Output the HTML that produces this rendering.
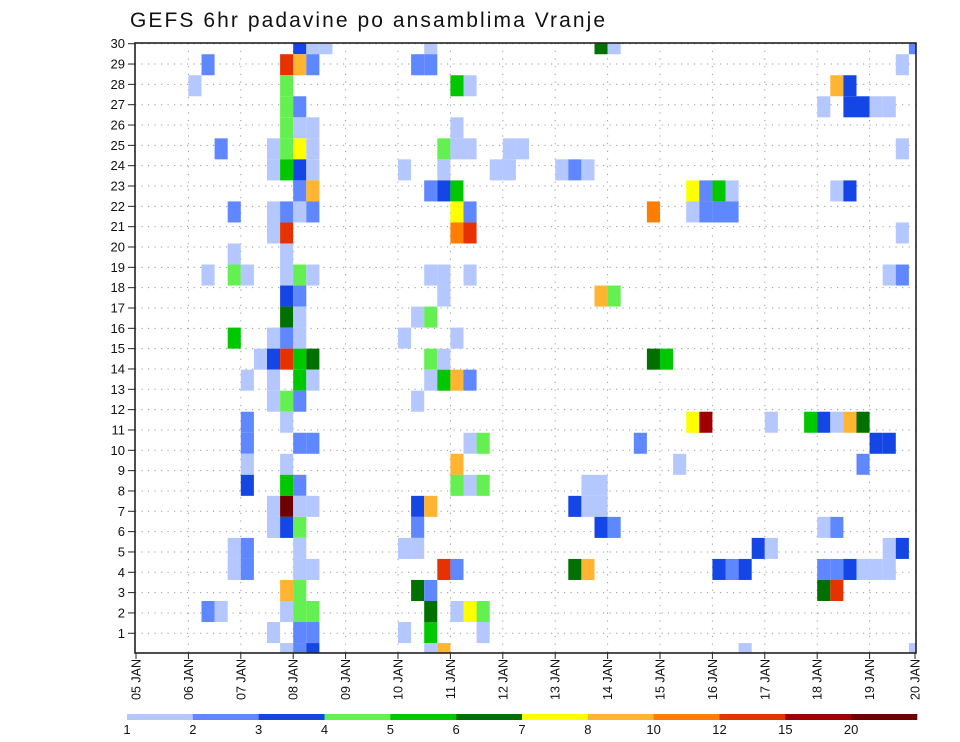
<!DOCTYPE html>
<html><head><meta charset="utf-8"><style>
body{margin:0;background:#fff;}
svg{display:block;font-family:"Liberation Sans",sans-serif;}
</style></head><body>
<svg id="chart" width="960" height="742" viewBox="0 0 960 742" xmlns="http://www.w3.org/2000/svg">
<text x="130" y="27" font-size="21" textLength="475" fill="#111">GEFS 6hr padavine po ansamblima Vranje</text>
<g id="grid"></g>
<g id="cells"></g>
<g id="axes"></g>
<g id="legend"></g>
</svg>
<script>
// data: 6-hour step index (0 = 05 JAN 00Z), ensemble member row from top, precip value (mm)
const cellStep = [12,13,14,5,11,12,13,4,11,11,12,11,12,13,6,10,11,12,13,10,11,12,13,12,13,7,10,11,12,13,10,11,7,11,5,7,8,11,12,13,11,12,11,12,7,10,11,12,9,10,11,12,13,8,10,12,13,10,11,12,8,11,8,12,13,8,11,8,11,12,10,11,12,13,10,11,12,7,8,12,7,8,12,13,11,12,5,6,11,12,13,10,12,13,11,12,13,
22,21,22,24,25,24,23,24,25,28,29,20,23,27,28,22,23,24,24,25,24,25,22,23,25,23,21,22,20,24,22,23,22,23,24,25,21,25,26,24,24,25,26,21,22,21,20,21,23,24,21,22,22,24,25,26,20,22,26,22,23,
35,36,32,33,34,42,43,44,45,39,42,43,44,45,35,36,39,40,42,43,38,41,34,35,33,34,35,35,36,33,34,44,45,46,46,
59,58,53,54,52,54,55,56,57,58,53,54,58,57,58,48,51,52,53,54,55,56,57,55,52,53,47,48,57,58,52,53,54,55,56,57,52,53,59];
const cellMember = [0,0,0,1,1,1,1,2,2,3,3,4,4,4,5,5,5,5,5,6,6,6,6,7,7,8,8,8,8,8,9,9,10,10,11,11,11,11,11,11,12,12,13,13,14,14,14,14,15,15,15,15,15,16,16,16,16,17,17,17,18,18,19,19,19,20,20,21,21,21,22,22,22,22,23,23,23,24,24,24,25,25,25,25,26,26,27,27,27,27,27,28,28,28,29,29,29,
0,1,1,2,2,4,5,5,5,5,5,6,6,6,6,7,7,7,8,8,9,9,11,11,11,12,13,13,14,14,15,15,16,16,16,16,17,19,19,20,21,21,21,22,22,23,24,24,25,25,26,26,27,27,27,27,28,28,28,29,29,
0,0,6,6,6,7,7,7,7,8,8,8,8,8,12,12,15,15,18,18,19,20,21,21,22,22,22,23,23,25,25,25,25,25,29,
0,1,2,2,3,3,3,3,3,5,7,7,9,11,11,18,18,18,18,18,18,19,19,20,23,23,24,24,24,24,25,25,25,25,25,25,26,26,29];
const cellValue = [3.5,1.5,1.5,2.5,13.5,9,2.5,1.5,4.5,4.5,2.5,4.5,1.5,1.5,2.5,1.5,4.5,7.5,1.5,1.5,5.5,3.5,1.5,2.5,9,2.5,1.5,2.5,1.5,2.5,1.5,13.5,1.5,1.5,1.5,4.5,1.5,1.5,4.5,1.5,3.5,2.5,6.5,1.5,5.5,1.5,2.5,1.5,1.5,3.5,13.5,5.5,6.5,1.5,1.5,5.5,1.5,1.5,4.5,2.5,2.5,1.5,2.5,2.5,2.5,1.5,1.5,3.5,5.5,2.5,1.5,25,1.5,1.5,1.5,3.5,4.5,1.5,2.5,1.5,1.5,2.5,1.5,1.5,9,4.5,2.5,1.5,1.5,4.5,4.5,1.5,2.5,2.5,1.5,2.5,3.5,
1.5,2.5,2.5,5.5,1.5,1.5,4.5,1.5,1.5,1.5,1.5,1.5,1.5,1.5,1.5,2.5,3.5,5.5,7.5,2.5,11,13.5,1.5,1.5,1.5,1.5,1.5,4.5,1.5,1.5,4.5,1.5,1.5,5.5,9,2.5,1.5,1.5,4.5,9,4.5,1.5,4.5,3.5,9,2.5,1.5,1.5,13.5,2.5,6.5,2.5,6.5,1.5,7.5,4.5,1.5,5.5,1.5,1.5,9,
6.5,1.5,1.5,2.5,1.5,7.5,2.5,5.5,1.5,11,1.5,2.5,2.5,2.5,9,4.5,6.5,5.5,7.5,17,2.5,1.5,1.5,1.5,3.5,1.5,1.5,3.5,2.5,6.5,9,3.5,2.5,3.5,1.5,
2.5,1.5,9,3.5,1.5,3.5,3.5,1.5,1.5,1.5,1.5,3.5,1.5,1.5,2.5,1.5,5.5,3.5,1.5,9,6.5,3.5,3.5,2.5,1.5,2.5,3.5,1.5,1.5,3.5,2.5,2.5,3.5,1.5,1.5,1.5,6.5,13.5,1.5];
const dayLabels = ["05 JAN","06 JAN","07 JAN","08 JAN","09 JAN","10 JAN","11 JAN","12 JAN","13 JAN","14 JAN","15 JAN","16 JAN","17 JAN","18 JAN","19 JAN","20 JAN"];
const yTickLabels = [1,2,3,4,5,6,7,8,9,10,11,12,13,14,15,16,17,18,19,20,21,22,23,24,25,26,27,28,29,30];
const levels = [1,2,3,4,5,6,7,8,10,12,15,20];
const colors = ["#b4c8ff","#5f87ff","#1446e6","#64f050","#00c800","#007000","#ffff00","#ffb432","#ff7d00","#e63200","#a00000","#6e0000"];

const NS="http://www.w3.org/2000/svg";
const L=135,R=916,T=43,B=653;
const x0=136, colW=13.1;
const xStep = s => x0 + s*colW;
const xDay = d => xStep(d*4);
const rowH = 21.03;
const yMember = m => T + 0.7 + m*rowH;
const yTick = k => 43.7 + (30-k)*20.33;
function colorFor(v){let i=-1;for(let j=0;j<levels.length;j++){if(v>=levels[j])i=j;}return i<0?null:colors[i];}
function mk(tag,attrs,parent){const e=document.createElementNS(NS,tag);for(const k in attrs)e.setAttribute(k,attrs[k]);parent.appendChild(e);return e;}

const grid=document.getElementById('grid'), cells=document.getElementById('cells'), axes=document.getElementById('axes'), legend=document.getElementById('legend');

// grid
yTickLabels.forEach(k=>{
  const y=yTick(k);
  const g=mk('line',{x1:L,x2:R,y1:y,y2:y,stroke:'#999','stroke-width':1,'stroke-dasharray':'1.2 5.3'},grid);
  
  
});
dayLabels.forEach((lab,d)=>{
  const x=Math.min(xDay(d),R);
  if(d>0&&x<R){
    const g=mk('line',{x1:x,x2:x,y1:T,y2:B,stroke:'#999','stroke-width':1,'stroke-dasharray':'1.2 6.5'},grid);
    
    
  }
});

// cells
for(let i=0;i<cellStep.length;i++){
  const c=colorFor(cellValue[i]); if(!c) continue;
  let x1=xStep(cellStep[i]), x2=x1+colW;
  let y1=yMember(cellMember[i])-rowH/2, y2=y1+rowH;
  x1=Math.max(x1,L); x2=Math.min(x2,R); y1=Math.max(y1,T); y2=Math.min(y2,B);
  const r=mk('rect',{x:x1,y:y1,width:x2-x1,height:y2-y1,fill:c},cells);
  
  
}

// frame
const fr=mk('rect',{x:L,y:T,width:R-L,height:B-T,fill:'none',stroke:'#222','stroke-width':1.6},axes);


yTickLabels.forEach(k=>{
  const y=yTick(k);
  const t=mk('line',{x1:L-7,x2:L,y1:y,y2:y,stroke:'#222','stroke-width':1},axes);
  
  
  const tx=mk('text',{x:L-10,y:y+4.5,'font-size':13,'text-anchor':'end',fill:'#111'},axes);
  tx.textContent=k;
  
  
});
dayLabels.forEach((lab,d)=>{
  const x=Math.min(xDay(d),R-1);
  const t=mk('line',{x1:x,x2:x,y1:B,y2:B+6,stroke:'#222','stroke-width':1},axes);
  
  
  const tx=mk('text',{transform:`translate(${x+4.5},659) rotate(-90)`,'font-size':12.5,'text-anchor':'end',fill:'#111'},axes);
  tx.textContent=lab;
  
  
});

// legend
const lx0=127, lx1=917, segW=(lx1-lx0)/colors.length;
colors.forEach((c,i)=>{
  const r=mk('rect',{x:lx0+i*segW,y:714,width:segW+0.3,height:6,fill:c},legend);
  
  
});
levels.forEach((v,i)=>{
  const tx=mk('text',{x:lx0+i*segW,y:734,'font-size':13,'text-anchor':'middle',fill:'#111'},legend);
  tx.textContent=v;
  
  
});
</script>
</body></html>
